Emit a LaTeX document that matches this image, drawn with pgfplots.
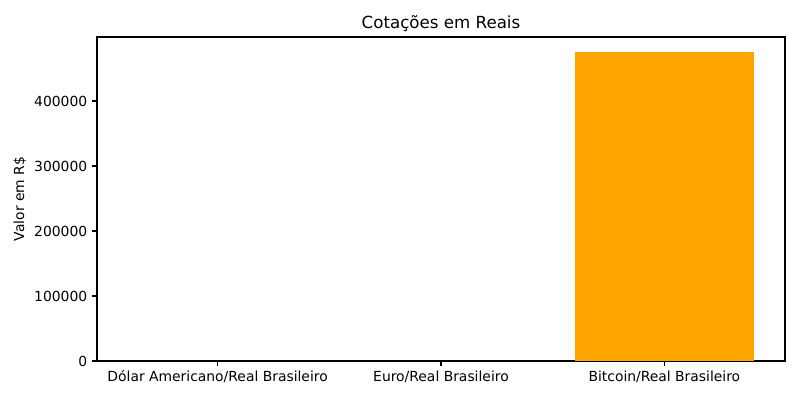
\documentclass[border=0pt]{standalone}
\usepackage{pgfplots}
\pgfplotsset{compat=1.18}
\usepackage{fontspec}
\setmainfont{DejaVu Sans}
\definecolor{btc}{RGB}{255,165,0}
\definecolor{usd}{RGB}{0,0,255}
\definecolor{eur}{RGB}{0,128,0}

\begin{document}
\begin{tikzpicture}
\path[use as bounding box] (-69.84pt,-28.08pt) rectangle (506.16pt,259.92pt);
\begin{axis}[
    at={(0,0)}, anchor=south west,
    scale only axis, width=495.36pt, height=233.28pt,
    xmin=-0.54, xmax=2.54, ymin=0, ymax=498461,
    ybar, bar width=0.8, bar shift=0pt,
    xtick={0,1,2},
    xticklabels={Dólar Americano/Real Brasileiro, Euro/Real Brasileiro, Bitcoin/Real Brasileiro},
    ytick={0,100000,200000,300000,400000},
    scaled y ticks=false,
    /pgf/number format/fixed, /pgf/number format/1000 sep={},
    /pgf/number format/assume math mode=true,
    tick pos=left, tick align=outside, major tick length=3.5pt,
    axis line style={line width=0.8pt}, tick style={line width=0.8pt, black},
    ticklabel style={font=\fontsize{10}{12}\selectfont},
    ylabel={Valor em R\$},
    ylabel style={font=\fontsize{10}{12}\selectfont, yshift=-1pt},
    title={Cotações em Reais},
    title style={font=\fontsize{12}{14}\selectfont, yshift=-6pt},
]
  \addplot[fill=usd, draw=none] coordinates {(0,5.02)};
  \addplot[fill=eur, draw=none] coordinates {(1,5.45)};
  \addplot[fill=btc, draw=none] coordinates {(2,474700)};
\end{axis}
\end{tikzpicture}
\end{document}
